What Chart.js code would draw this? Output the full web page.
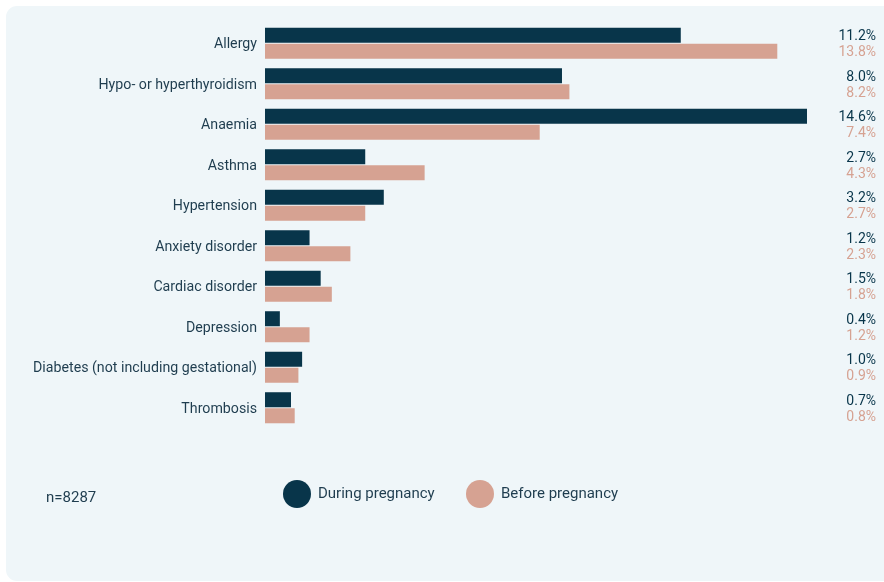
<!DOCTYPE html>
<html>
<head>
<meta charset="utf-8">
<script src="https://cdn.jsdelivr.net/npm/chart.js@4/dist/chart.umd.min.js"></script>
<style>
  html, body { margin: 0; padding: 0; background: #fff; overflow: hidden; }
  .card {
    position: absolute; left: 6px; top: 6px; width: 900px; height: 575px;
    background: #eff6f9; border-radius: 11px;
  }
  #wrap { position: absolute; left: 0; top: 0; width: 884px; height: 582px; }
</style>
</head>
<body>
<div class="card"></div>
<div id="wrap"><canvas id="grafico"></canvas></div>
<script>
const categorie = ['Allergy', 'Hypo- or hyperthyroidism', 'Anaemia', 'Asthma', 'Hypertension',
    'Anxiety disorder', 'Cardiac disorder', 'Depression', 'Diabetes (not including gestational)', 'Thrombosis'];
const durante = [11.2, 8.0, 14.6, 2.7, 3.2, 1.2, 1.5, 0.4, 1.0, 0.7];
const prima = [13.8, 8.2, 7.4, 4.3, 2.7, 2.3, 1.8, 1.2, 0.9, 0.8];
const campione = 'n=8287';

const scuro = '#08354a';
const salmone = '#d6a292';
const testo = '#1f3d4f';

// etichette dei valori a destra + legenda custom in basso
const etichette = {
    id: 'etichette',
    afterDatasetsDraw(chart) {
        const ctx = chart.ctx;
        ctx.save();
        ctx.font = '14px Roboto';
        ctx.textAlign = 'right';
        ctx.textBaseline = 'middle';
        chart.data.datasets.forEach((ds, i) => {
            const meta = chart.getDatasetMeta(i);
            ctx.fillStyle = ds.backgroundColor;
            meta.data.forEach((bar, j) => {
                ctx.fillText(ds.data[j].toFixed(1) + '%', 876, bar.y + 1.5);
            });
        });

        // legenda
        ctx.font = '15px Roboto';
        const yL = 494;
        let x = 297;
        chart.data.datasets.forEach((ds) => {
            ctx.beginPath();
            ctx.arc(x, yL, 14, 0, Math.PI * 2);
            ctx.fillStyle = ds.backgroundColor;
            ctx.fill();
            ctx.fillStyle = testo;
            ctx.textAlign = 'left';
            ctx.fillText(ds.label, x + 21, yL);
            x += 183;
        });

        ctx.fillStyle = testo;
        ctx.textAlign = 'left';
        ctx.fillText(campione, 46, 498);
        ctx.restore();
    }
};

new Chart(document.getElementById('grafico'), {
    type: 'bar',
    data: {
        labels: categorie,
        datasets: [
            { label: 'During pregnancy', data: durante, backgroundColor: scuro },
            { label: 'Before pregnancy', data: prima, backgroundColor: salmone }
        ]
    },
    options: {
        indexAxis: 'y',
        responsive: true,
        maintainAspectRatio: false,
        animation: false,
        layout: { padding: { top: 23, bottom: 154, right: 77, left: 0 } },
        datasets: { bar: { categoryPercentage: 0.79, barPercentage: 0.94 } },
        plugins: { legend: { display: false }, tooltip: { enabled: false } },
        scales: {
            x: { display: false, min: 0, max: 14.6 },
            y: {
                grid: { display: false, drawTicks: false },
                border: { display: false },
                ticks: { color: testo, font: { family: 'Roboto', size: 14.2 }, padding: 8, labelOffset: 1.5 },
                afterFit: s => { s.width = 265; }
            }
        }
    },
    plugins: [etichette]
});
</script>
</body>
</html>
